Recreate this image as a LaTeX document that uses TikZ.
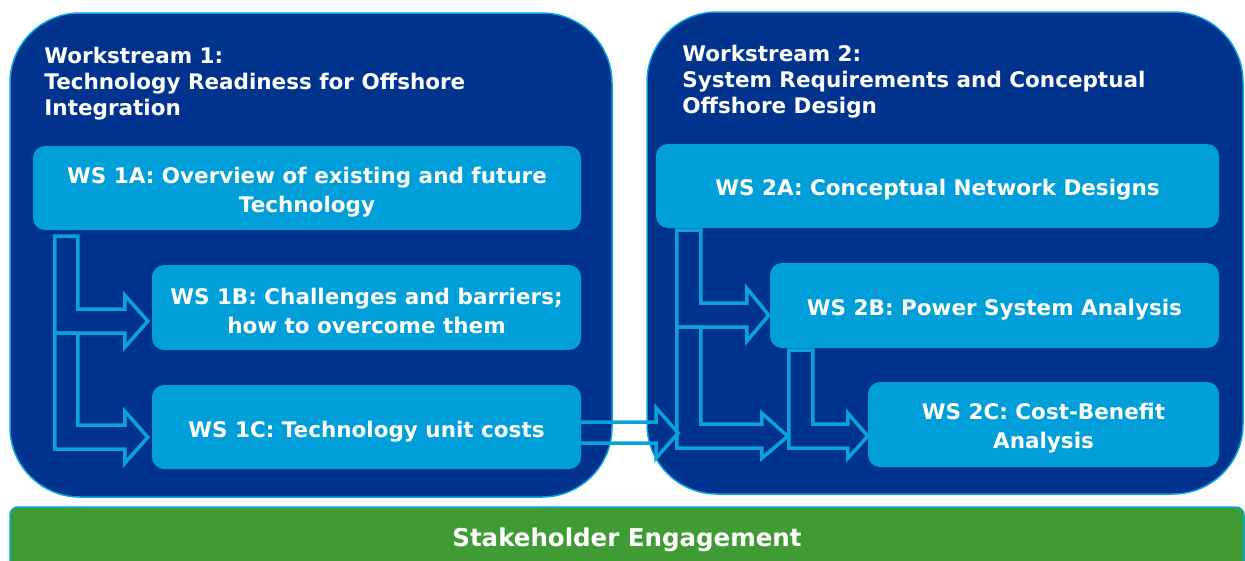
\documentclass[tikz,border=0pt]{standalone}
\usepackage{fontspec}
\setmainfont{DejaVu Sans}
\definecolor{dblue}{HTML}{00338D}
\definecolor{mblue}{HTML}{009FDA}
\definecolor{lblue}{HTML}{0AA2DE}
\definecolor{sgreen}{HTML}{3F9C35}
\newcommand\wstitlefont{\bfseries\fontsize{21.5}{26}\selectfont}
\newcommand\wssubfont{\bfseries\fontsize{21.5}{29}\selectfont}
\newcommand\wsbarfont{\bfseries\fontsize{24.5}{29}\selectfont}
\begin{document}
\begin{tikzpicture}[x=1pt,y=-1pt,
  bigbox/.style={draw=lblue, line width=1.5pt, fill=dblue, rounded corners=70pt, inner sep=0pt},
  subbox/.style={fill=mblue, rounded corners=12pt, inner sep=0pt, text=white, align=center, font=\wssubfont},
  sublabel/.style={text=white, align=center, font=\wssubfont, inner sep=0pt},
  flowarrow/.style={draw=lblue, line width=3.5pt, line join=miter},
  wstitle/.style={text=white, align=left, anchor=north west, inner sep=0pt, font=\wstitlefont},
  greenbar/.style={draw=lblue, line width=1.5pt, fill=sgreen, rounded corners=8pt, inner sep=0pt},
  barlabel/.style={text=white, font=\wsbarfont, inner sep=0pt}]
\useasboundingbox (0,0) rectangle (1245,560);
\fill[white] (0,0) rectangle (1245,560);

% workstream containers
\node[bigbox, minimum width=602pt, minimum height=484pt] (ws1) at (311,255) {};
\node[bigbox, minimum width=596pt, minimum height=482pt] (ws2) at (945,253) {};

\node[wstitle] (t1) at ([xshift=35pt,yshift=-35pt]ws1.north west)
  {Workstream 1:\\Technology Readiness for Offshore\\Integration};
\node[wstitle] (t2) at ([xshift=36pt,yshift=-34pt]ws2.north west)
  {Workstream 2:\\System Requirements and Conceptual\\Offshore Design};

% sub-workstreams
\node[subbox, minimum width=548pt, minimum height=84pt] (ws1a) at (307,188) {};
\node[sublabel] at ([yshift=-4pt]ws1a.center) {WS 1A: Overview of existing and future\\Technology};
\node[subbox, minimum width=429pt, minimum height=85pt] (ws1b) at (366.5,307.5) {};
\node[sublabel] at ([yshift=-3pt]ws1b.center) {WS 1B: Challenges and barriers;\\how to overcome them};
\node[subbox, minimum width=429pt, minimum height=84pt] (ws1c) at (366.5,427) {};
\node[sublabel] at ([yshift=-5pt]ws1c.center) {WS 1C: Technology unit costs};
\node[subbox, minimum width=563pt, minimum height=84pt] (ws2a) at (937.5,186) {};
\node[sublabel] at ([yshift=-4pt]ws2a.center) {WS 2A: Conceptual Network Designs};
\node[subbox, minimum width=449pt, minimum height=85pt] (ws2b) at (994.5,305.5) {};
\node[sublabel] at ([yshift=-4pt]ws2b.center) {WS 2B: Power System Analysis};
\node[subbox, minimum width=351pt, minimum height=85pt] (ws2c) at (1043.5,424.5) {};
\node[sublabel] at ([yshift=-3.5pt]ws2c.center) {WS 2C: Cost-Benefit\\Analysis};

% bent arrows, workstream 1
\draw[flowarrow] ([xshift=22pt,yshift=-6pt]ws1a.south west) -- ++(23,0) -- ++(0,73)
  -- ++(47,0) -- ++(0,-14) -- ++(23,26) -- ++(-23,26) -- ++(0,-14) -- ++(-70,0) coordinate (s1) -- cycle;
\draw[flowarrow] (s1) -- ++(23,0) -- ++(0,92)
  -- ++(47,0) -- ++(0,-14) -- ++(23,26) -- ++(-23,26) -- ++(0,-14) -- ++(-70,0) -- cycle;

% bent arrows, workstream 2
\draw[flowarrow] ([xshift=21pt,yshift=-2pt]ws2a.south west) -- ++(24,0) -- ++(0,73)
  -- ++(46,0) -- ++(0,-15) -- ++(22,27) -- ++(-22,26) -- ++(0,-14) -- ++(-70,0) coordinate (s2) -- cycle;
\draw[flowarrow] (s2) -- ++(24,0) -- ++(0,97)
  -- ++(61,0) -- ++(0,-11) -- ++(26,23) -- ++(-26,22) -- ++(0,-10) -- ++(-85,0) -- cycle;
\draw[flowarrow] ([xshift=19pt,yshift=-2pt]ws2b.south west) -- ++(24,0) -- ++(0,74)
  -- ++(35,0) -- ++(0,-11) -- ++(20,23) -- ++(-20,22) -- ++(0,-10) -- ++(-59,0) -- cycle;

% arrow from WS 1C into workstream 2
\draw[flowarrow] ([yshift=5pt]ws1c.east) -- ++(75,0) -- ++(0,-14) -- ++(22,25)
  -- ++(-22,25) -- ++(0,-15) -- ++(-75,0);

% stakeholder bar
\begin{scope}
\clip (0,0) rectangle (1245,560);
\node[greenbar, minimum width=1234pt, minimum height=76pt] (stake) at (627,545) {};
\end{scope}
\node[barlabel] (stakelabel) at ([yshift=-34pt]stake.north) {Stakeholder Engagement};
\end{tikzpicture}
\end{document}
